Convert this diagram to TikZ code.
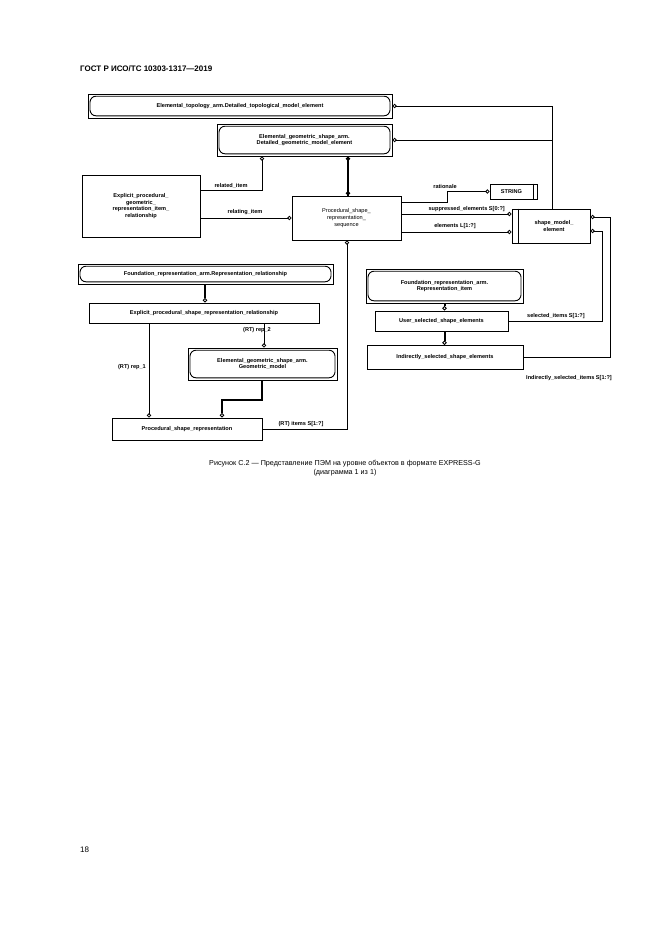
\documentclass[tikz,border=0pt]{standalone}
\usepackage{fontspec}
\setmainfont{Liberation Sans}
\usetikzlibrary{arrows.meta,calc}
\begin{document}
\begin{tikzpicture}[x=1pt,y=-1pt,
  lw/.style={line width=0.9pt},
  ent/.style={draw,lw,rectangle,inner sep=1pt,align=center,font=\fontsize{5.6}{6.6}\selectfont\bfseries},
  sel/.style={ent,path picture={\draw[lw,rounded corners=6pt]
     ([shift={(2pt,-2.2pt)}]path picture bounding box.north west) rectangle
     ([shift={(-2pt,2.2pt)}]path picture bounding box.south east);}},
  lab/.style={font=\fontsize{5.6}{6.6}\selectfont\bfseries,inner sep=1pt},
  rel/.style={lw,-{Circle[open,length=4.2pt,width=4.2pt,line width=0.8pt]}},
  sub/.style={line width=2pt,-{Circle[open,length=4.6pt,width=4.6pt,line width=0.9pt]}}
]
\useasboundingbox (0,0) rectangle (661,935);
\node[anchor=west,font=\fontsize{8}{9}\selectfont\bfseries,inner sep=0] (hd) at (80,69) {ГОСТ Р ИСО/ТС 10303-1317—2019};
\node[anchor=west,font=\fontsize{8}{9}\selectfont,inner sep=0] (pg) at (80,850) {18};
\node[align=center,font=\fontsize{7.2}{9}\selectfont,inner sep=0] (cap) at (345,468) {Рисунок C.2 — Представление ПЭМ на уровне объектов в формате EXPRESS-G\\(диаграмма 1 из 1)};

\node[sel,minimum width=304pt,minimum height=24pt] (topo) at (240,106) {Elemental\_topology\_arm.Detailed\_topological\_model\_element};
\node[sel,minimum width=175pt,minimum height=32pt] (gdet) at (304.5,140) {Elemental\_geometric\_shape\_arm.\\Detailed\_geometric\_model\_element};
\node[ent,minimum width=118pt,minimum height=62pt] (exg) at (141,206) {Explicit\_procedural\_\\geometric\_\\representation\_item\_\\relationship};
\node[ent,minimum width=109pt,minimum height=44pt,font=\fontsize{5.6}{6.6}\selectfont\mdseries] (psrs) at (346.5,218) {Procedural\_shape\_\\representation\_\\sequence};
\node[ent,minimum width=47pt,minimum height=15pt,anchor=center] (str) at (513.5,191.5) {STRING\hspace{4pt}};
\draw[lw] ($(str.north east)+(-4pt,0)$) -- ($(str.south east)+(-4pt,0)$);
\node[ent,minimum width=78pt,minimum height=34pt] (sme) at (551,226) {\hspace{6pt}shape\_model\_\\\hspace{6pt}element};
\draw[lw] ($(sme.north west)+(7pt,0)$) -- ($(sme.south west)+(7pt,0)$);
\node[sel,minimum width=255pt,minimum height=20pt] (frr) at (205.5,274) {Foundation\_representation\_arm.Representation\_relationship};
\node[ent,minimum width=230pt,minimum height=20pt] (epsr) at (204,313) {Explicit\_procedural\_shape\_representation\_relationship};
\node[sel,minimum width=149pt,minimum height=32pt] (gm) at (262.5,364) {Elemental\_geometric\_shape\_arm.\\Geometric\_model};
\node[ent,minimum width=150pt,minimum height=22pt] (psr) at (187,429) {Procedural\_shape\_representation};
\node[sel,minimum width=157pt,minimum height=34pt] (fri) at (444.5,286) {Foundation\_representation\_arm.\\Representation\_item};
\node[ent,minimum width=133pt,minimum height=20pt] (uss) at (441.5,321) {User\_selected\_shape\_elements};
\node[ent,minimum width=156pt,minimum height=24pt] (iss) at (445,357.5) {Indirectly\_selected\_shape\_elements};

\coordinate (j1) at (552,106);
\coordinate (j2) at (552,140);
\draw[rel] (j1) -- (topo.east);
\draw[rel] (j2) -- (gdet.east);
\draw[lw] (j1) -- (j1 |- sme.north);
\draw[sub] (psrs.north -| 348,0) -- (gdet.south -| 348,0);
\draw[sub] (gdet.south -| 348,0) -- (psrs.north -| 348,0);
\draw[lw] (gdet.south -| 348,0) -- (psrs.north -| 348,0);

\draw[rel] (exg.east |- 0,190) -- (262,190) -- (gdet.south -| 262,0);
\node[lab,anchor=south] (lrel) at (231,189) {related\_item};
\draw[rel] (exg.east |- 0,218) -- (psrs.west);
\node[lab,anchor=south] (lreli) at (245,216) {relating\_item};

\draw[rel] (psrs.east |- 0,202) -- (447,202) -- (447,191.5) -- (str.west);
\node[lab,anchor=south] (lrat) at (445,189.5) {rationale};
\draw[rel] (psrs.east |- 0,214) -- (sme.west |- 0,214);
\node[lab,anchor=south east] (lsup) at (506,213) {suppressed\_elements S[0:?]};
\draw[rel] (psrs.east |- 0,232) -- (sme.west |- 0,232);
\node[lab,anchor=south] (lel) at (455,230) {elements L[1:?]};

\draw[rel] (iss.east) -- (610,357.5) -- (610,217) -- (sme.east |- 0,217);
\node[lab,anchor=east] (lind) at (613,378) {Indirectly\_selected\_items S[1:?]};
\draw[rel] (uss.east) -- (602,321) -- (602,231) -- (sme.east |- 0,231);
\node[lab,anchor=south] (lsel) at (556,320) {selected\_items S[1:?]};

\draw[rel] (psr.east) -- (347,429) -- (psrs.south -| 347,0);
\node[lab,anchor=south] (lit) at (301,428) {(RT) items S[1:?]};

\draw[sub] (frr.south -| 205,0) -- (epsr.north -| 205,0);
\draw[rel] (epsr.south -| 149,0) -- (psr.north -| 149,0);
\node[lab,anchor=east] (lr1) at (147,367) {(RT) rep\_1};
\draw[rel] (epsr.south -| 264,0) -- (gm.north -| 264,0);
\node[lab] (lr2) at (257,330) {(RT) rep\_2};
\draw[sub] (gm.south -| 262,0) -- (262,400) -- (222,400) -- (psr.north -| 222,0);
\draw[sub] (fri.south) -- (uss.north -| fri.south);
\draw[sub] (uss.south -| fri.south) -- (iss.north -| fri.south);
\end{tikzpicture}
\end{document}
